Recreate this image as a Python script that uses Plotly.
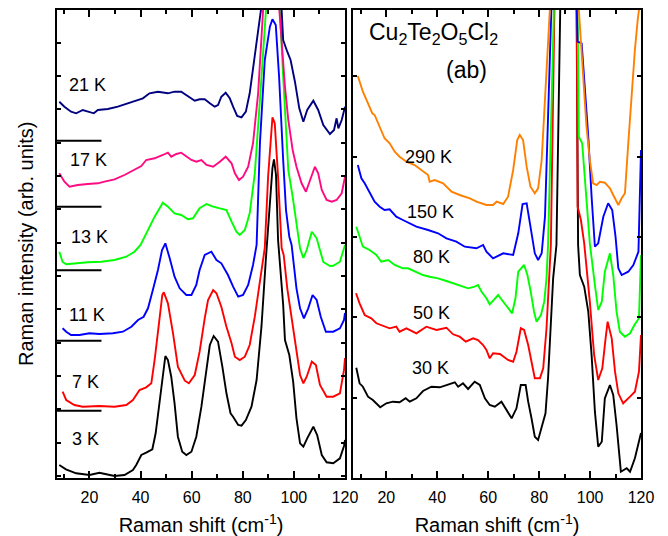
import plotly.graph_objects as go

# ---------------- data (arbitrary intensity units, offset spectra) ----------------
# Left panel: low temperatures
x_3K = [8.2,10.8,14.8,20,23.9,27.8,29.8,33.7,37,38.3,40.3,42.2,44.6,45.9,47.5,48.8,49.7,50.7,52,53.3,54.6,56.3,57.9,59.9,61.8,63.8,65.8,67.1,68.6,70.3,72,73.6,75.2,76.2,78.2,79.5,81.2,83.4,85.4,87.3,89.0,89.3,90.8,91.6,92.2,93.0,93.8,95.8,96.5,98.2,99.7,101,102.4,103.7,105.2,107.6,109.1,110.9,112.8,115.4,118,119.6,120]
y_3K = [1.3,0.87,0.47,0.3,0.53,0.3,0.2,0.3,0.8,1.3,2.3,2.53,2.87,4.47,7.8,10.8,12.2,11.8,10.13,7.47,4.13,2.63,2.3,2.63,4.13,7.13,10.8,13.3,14.2,13.63,11.13,8.47,6.47,6.13,5.3,5.23,5.8,7.13,9.8,15.13,21.8,23.0,27.8,31.0,31.87,30.3,23.8,17.3,13.8,12.3,9.63,5.97,3.47,3.13,3.97,5.13,4.3,2.3,1.57,1.47,1.97,3.2,3.8]

x_7K = [9.5,10.9,14.1,17.4,23.9,29.8,34.4,37,39.6,42.2,44.2,45.5,47.2,48.5,49.1,50.7,52.7,54.6,57.3,58.9,61.2,63.1,65.1,66.4,68.4,69.7,71.6,73.6,75.6,76.9,78.8,80.8,82.7,84.7,86.4,88.0,88.6,89.9,91.6,92.5,93.8,95.2,96.0,97.4,99.1,101,102.4,103.7,105,107,108.6,110.2,112.8,115.4,118,119.6,120]
y_7K = [8.63,7.8,7.3,7.13,7.2,7.13,7.3,7.8,8.8,9.07,9.47,11.8,15.47,18.3,18.57,17.47,14.47,11.13,9.73,9.47,10.3,12.63,15.97,17.8,18.8,18.47,17.13,15.13,13.47,12.13,11.8,12.13,13.3,16.13,19.13,21.8,23.0,30.13,36.07,35.47,30.13,23.0,22.3,18.97,15.97,12.3,10.3,9.47,10.13,11.63,11.3,9.3,8.13,8.13,8.47,10.8,12.0]

x_11K = [9.5,10.9,12.8,16.1,20,23.9,29.2,33.1,36.4,39,41.2,42.9,44.8,46.8,48.4,49.7,51.4,53.3,55.3,57.9,59.9,61.8,63.1,65.1,67.7,69.7,71.6,74.2,76.2,78.2,80.1,82.1,84,85.4,86.7,88.6,90.6,91.6,92.9,94.2,95.8,96.9,98.2,99.1,101,102.4,103.9,105.6,107.3,108.9,110.5,112.5,115.4,118,119.6,120]
y_11K = [14.97,14.63,14.3,14.3,14.47,14.4,14.47,14.63,15.13,15.8,16.13,16.97,18.8,20.8,22.8,23.47,21.97,20.13,18.97,18.3,18.3,19.3,20.8,22.3,22.63,21.8,21.47,20.3,19.13,18.13,18.3,19.3,21.3,23.3,33.47,41.8,45.13,45.87,45.3,40.13,31.8,26.8,24.13,23.3,18.97,16.97,15.97,16.97,18.3,17.8,16.13,14.63,14.63,14.97,15.8,16.5]

x_13K = [8.2,9.5,10.9,14.1,19.3,24.6,29.8,34.4,37.6,40,42.2,45.5,47.8,48.7,50.7,53.3,55.9,58.5,60.5,63.1,65.8,68.4,71,73.6,75.6,77.5,78.8,80.8,82.7,84.7,86.7,88.6,90,91.5,93,94.5,95.8,96.9,97.8,99.5,101,102.4,103.7,105,107,108.9,111.5,114.1,115.4,118,120]
y_13K = [22.63,21.6,21.37,21.47,21.57,21.63,21.8,22.13,22.63,23.3,24.47,26.13,27.13,27.53,27.13,26.47,26.3,25.87,25.97,26.97,27.4,27.13,26.97,26.8,25.63,24.63,24.3,24.8,26.47,30.47,37.8,46.13,52,56,52,46.8,40.13,34.8,30.8,28.13,25.47,22.97,22.0,22.8,24.63,23.97,21.6,21.2,21.23,21.63,23.3]

x_17K = [8.2,10.2,12.2,15.4,19.3,23.3,25.9,29.8,33.7,37.6,40.3,42.2,45.5,48.7,50.7,52,54,55.9,57.9,59.9,61.8,63.8,65.8,68.4,71,73.3,75.6,76.9,78.5,80.1,82.1,84,86,87.3,88.2,91.5,94.3,95.2,96.5,97.8,99.5,101,103,104.7,106.3,108.2,109.5,110.9,112.8,114.8,116.7,118.7,120]
y_17K = [30.47,29.63,29.13,29.3,29.4,29.47,29.63,29.87,30.3,30.8,31.2,31.8,31.97,32.3,32.53,32.13,32.4,32.53,32.13,31.8,31.63,31.8,31.3,31.13,31.63,32.13,31.47,30.47,29.8,30.13,31.13,33.47,38.47,43.47,46.8,62,46.8,43.47,39.13,35.8,32.8,31.13,29.47,28.63,29.8,31.13,30.47,28.8,27.8,27.63,27.8,28.47,30.13]

x_21K = [8.2,10.2,12.8,14.8,17.4,19.3,21.7,23.3,27.2,31.1,35,38.3,40.9,43.5,46.8,50.7,53.3,55.9,58.5,61.2,63.1,65.1,67.1,69,70.3,71.6,73.3,74.9,76.2,77.8,79.5,81.2,82.7,84,85.4,86.7,87.1,91.3,95.0,95.8,97.4,98.7,100.4,102.1,103.7,105.2,107.6,109.5,111.5,114.1,115.7,116.7,117.4,118.7,120]
y_21K = [37.63,37.13,36.63,36.47,36.8,36.63,36.47,36.8,36.9,37.13,37.47,37.8,37.97,38.47,38.63,38.47,38.63,38.63,38.2,37.73,37.87,37.87,37.47,37.13,37.3,38.13,38.53,37.97,37.13,36.2,36.07,36.63,38.47,40.8,43.47,46.13,46.8,66,46.8,43.8,42.63,41.8,39.63,36.97,35.63,36.8,37.73,36.8,35.3,34.4,34.8,35.97,34.97,35.8,37.13]

# zero-level markers of the offset spectra (left panel)
baseline_levels = [6.73, 13.73, 20.77, 27.13, 33.73]
baseline_x = [7.3, 24.7]

# Right panel: higher temperatures
x_30K = [8.2,9.5,10.8,12.8,14.7,17.6,20,22.6,25.2,27.6,29.2,31.8,34.4,37.7,41,43.6,46.9,48.2,50.1,52.1,54.7,56.7,58.7,60.6,62.6,65.2,67.2,69.2,71.1,72.8,74.7,75.7,77,78.3,79.6,81,82.5,83.5,84.6,85.5,86.8,88.4,91,94.7,95.3,96,97.7,99.3,100.6,101.9,103.2,104.6,105.8,107.8,109.1,110.4,112.1,114.4,115.7,117.6,119.2,120]
y_30K = [11.03,9.47,9.13,8.13,7.8,7.07,7.47,7.63,7.57,7.97,7.63,7.97,8.7,9.13,9.07,9.3,9.57,9.13,9.47,8.9,9.63,9.3,7.97,7.3,7.13,7.63,6.8,5.97,6.97,9.3,9.3,7.63,5.97,4.13,3.8,4.97,6.47,9.97,14.97,19.97,23.3,46.8,90,46.8,23.3,20.3,19.13,16.63,12.3,6.63,3.13,3.63,7.97,9.3,8.3,5.3,0.63,0.97,0.63,1.97,3.63,4.5]

x_50K = [8.1,9.5,11.5,14.1,16.1,18.7,21.3,23.9,25.2,27.9,31.8,35.7,39.7,43.6,46.2,48.8,51.2,54.1,56,58,59.3,60.6,61.9,64.6,67.8,69.8,71.1,72.8,74.1,75.7,77,78.3,80.3,81.6,82.9,83.8,84.6,86,90,94.8,95.1,96.4,97.7,99.9,101.6,103.2,104.8,106.1,106.9,108.5,109.8,111.1,113,115.7,117.6,119.2,120]
y_50K = [18.47,17.47,16.3,15.97,15.47,15.23,14.97,15.13,14.63,14.97,14.47,15.13,14.8,15.03,14.37,14.13,13.63,13.97,13.8,13.3,12.8,11.97,12.47,12.4,11.8,11.63,12.63,14.97,14.8,13.3,11.63,9.97,9.97,10.97,14.97,19.97,23.3,46.8,90,46.8,27.13,25.8,23.47,17.63,12.3,9.8,10.97,13.97,15.63,13.97,10.63,8.47,7.47,8.13,8.63,10.63,14.3]

x_80K = [8.2,10.2,10.8,13.4,16.1,18,20.7,23.3,25.2,26.5,28.5,31.8,34.4,37,40.3,43.6,46.2,49.5,52.1,54.7,56,57.4,59.3,60.6,62.6,63.9,65.9,67.8,69.4,70.7,71.8,74.1,75.4,76.7,78,79,80.7,82,82.9,83.5,86.2,90,95.1,95.6,96.9,98.2,99.9,101.9,103.2,104.6,105.8,107.8,109.1,110.4,111.7,113.7,115.7,117.4,119.2,120]
y_80K = [25.13,23.47,23.13,22.8,22.3,21.63,21.8,21.3,21.13,20.97,20.97,20.63,20.3,20.13,19.97,19.7,19.47,19.13,18.97,19.13,19.3,18.63,17.97,17.37,17.97,18.3,17.63,16.97,16.47,17.97,20.63,21.3,20.3,18.63,16.63,15.63,16.3,17.63,19.97,23.3,46.8,90,46.8,34.13,33.47,29.13,23.47,19.3,16.8,17.63,20.63,22.47,20.3,16.63,14.63,14.13,14.47,15.3,15.97,22.3]

x_150K = [8.8,10.2,11.5,12.8,15.4,17.4,19.3,21.3,23.9,26.5,31.8,36.4,40.3,43.6,47.5,50.8,55.4,58,59.3,61.9,65.9,69.8,71.8,73.5,75.1,76.6,78.3,79.6,81,82.3,83.5,84.9,85.3,90,94.8,95.1,96.7,97.7,99.3,100.6,101.9,103.2,105.2,107.1,108.7,110,111.1,112.4,115,117,119,120]
y_150K = [31.3,29.97,29.47,28.8,27.63,27.13,26.8,26.87,26.13,25.8,25.13,24.8,24.47,23.97,23.63,23.13,22.97,23.3,22.63,21.97,22.47,22.3,24.47,27.4,27.47,25.13,22.47,21.8,22.47,26.13,34.47,44.47,46.8,90,46.8,43.63,43.47,40.13,34.13,28.13,23.13,23.47,26.13,27.47,26.8,24.13,20.97,20.3,20.63,21.3,22.63,32.8]

x_290K = [8.8,10.8,12.8,14.5,15.4,17.4,19.3,21.3,23.3,25.2,27.9,31.1,33.8,36.4,37,39,42.3,45.6,48.8,52.8,55.4,59.3,61.9,63.3,65.9,67.8,69.8,71.4,72.4,73.7,75.1,76.6,78.3,79.6,81,82.3,83.5,84.2,90,95.6,97.3,98.6,99.9,101.2,102.6,103.9,105.8,107.8,109.1,111.1,112.4,113.7,115,116.3,117.6,118.7,119.2,120]
y_290K = [40.2,38.63,37.47,36.47,36.3,35.13,33.97,33.47,32.63,32.13,31.63,31.3,30.8,30.3,29.63,29.8,29.47,28.63,28.3,27.97,27.63,27.3,27.3,27.63,27.4,28.13,30.8,33.8,34.3,33.8,31.13,29.13,28.47,28.97,31.8,37.8,44.47,46.8,90,46.8,40.13,35.13,31.8,29.47,29.3,29.63,29.53,28.97,28.3,27.3,27.97,28.47,33.47,38.47,42.8,45.8,46.8,52]

left_labels = ["3 K", "7 K", "11 K", "13 K", "17 K", "21 K"]
right_labels = ["30 K", "50 K", "80 K", "150 K", "290 K"]
x_ticks = [20, 40, 60, 80, 100, 120]

# ---------------- figure ----------------
FONT = "Liberation Sans, Arial, sans-serif"
LW = 1.9
fig = go.Figure()

left_series = [(x_3K, y_3K, "#000000"), (x_7K, y_7K, "#ff0000"), (x_11K, y_11K, "#0000ff"),
               (x_13K, y_13K, "#00ff00"), (x_17K, y_17K, "#ff0a80"), (x_21K, y_21K, "#000080")]
for (xs, ys, col), name in zip(left_series, left_labels):
    fig.add_trace(go.Scatter(x=xs, y=ys, mode="lines", name=name,
                             line=dict(color=col, width=LW), xaxis="x", yaxis="y"))

for lev in baseline_levels:
    fig.add_trace(go.Scatter(x=baseline_x, y=[lev, lev], mode="lines",
                             line=dict(color="black", width=2), xaxis="x", yaxis="y",
                             hoverinfo="skip"))

right_series = [(x_30K, y_30K, "#000000"), (x_50K, y_50K, "#ff0000"), (x_80K, y_80K, "#00ff00"),
                (x_150K, y_150K, "#0000ff"), (x_290K, y_290K, "#ff8000")]
for (xs, ys, col), name in zip(right_series, right_labels):
    fig.add_trace(go.Scatter(x=xs, y=ys, mode="lines", name=name,
                             line=dict(color=col, width=LW), xaxis="x2", yaxis="y2"))

# label positions (data coordinates)
left_label_pos = [(12.5, 3.9), (12.2, 9.6), (11.25, 16.33), (11.8, 24.13), (11.5, 31.8), (11.25, 39.3)]
right_label_pos = [(29.4, 11.03), (29.8, 16.53), (29.8, 22.07), (27.5, 26.63), (26.4, 32.13)]

annotations = []
for txt, (ax_, ay_) in zip(left_labels, left_label_pos):
    annotations.append(dict(x=ax_, y=ay_, xref="x", yref="y", text=txt, showarrow=False,
                            xanchor="left", yanchor="middle", font=dict(size=18, color="black", family=FONT)))
for txt, (ax_, ay_) in zip(right_labels, right_label_pos):
    annotations.append(dict(x=ax_, y=ay_, xref="x2", yref="y2", text=txt, showarrow=False,
                            xanchor="left", yanchor="middle", font=dict(size=18, color="black", family=FONT)))

annotations.append(dict(x=12.5, y=44.5, xref="x2", yref="y2",
                        text="Cu<sub>2</sub>Te<sub>2</sub>O<sub>5</sub>Cl<sub>2</sub>",
                        showarrow=False, xanchor="left", yanchor="middle",
                        font=dict(size=23, color="black", family=FONT)))
annotations.append(dict(x=42.5, y=40.8, xref="x2", yref="y2", text="(ab)",
                        showarrow=False, xanchor="left", yanchor="middle",
                        font=dict(size=23, color="black", family=FONT)))
annotations.append(dict(x=-0.053, y=0.5, xref="paper", yref="paper",
                        text="Raman intensity (arb. units)", textangle=-90, showarrow=False,
                        xanchor="center", yanchor="middle",
                        font=dict(size=20, color="black", family=FONT)))

xaxis_common = dict(
    showline=True, linecolor="black", linewidth=1.5, mirror="ticks",
    ticks="inside", ticklen=7, tickwidth=1.5, tickcolor="black",
    tickvals=x_ticks, showgrid=False, zeroline=False, ticklabelstandoff=4,
    minor=dict(dtick=10, tick0=0, ticks="inside", ticklen=4, tickwidth=1.5, tickcolor="black", showgrid=False),
    tickfont=dict(size=16, color="black", family=FONT),
    title=dict(text="Raman shift (cm<sup>-1</sup>)", font=dict(size=20, color="black", family=FONT), standoff=13),
)
yaxis_common = dict(
    showline=True, linecolor="black", linewidth=1.5, mirror="ticks",
    ticks="inside", ticklen=4, tickwidth=1.5, tickcolor="black",
    showticklabels=False, showgrid=False, zeroline=False, range=[0, 46.8],
)

fig.update_layout(
    width=668, height=536,
    margin=dict(l=57, r=27, t=10, b=58, autoexpand=False),
    paper_bgcolor="white", plot_bgcolor="white",
    showlegend=False,
    font=dict(family=FONT, color="black"),
    xaxis=dict(domain=[0, 0.4932], range=[7.3, 120], anchor="y", **xaxis_common),
    xaxis2=dict(domain=[0.5068, 1], range=[6.9, 120], anchor="y2", **xaxis_common),
    yaxis=dict(anchor="x", tick0=3.53, dtick=3.333, **yaxis_common),
    yaxis2=dict(anchor="x2", tick0=8.03, dtick=8.04, **yaxis_common),
    annotations=annotations,
)

fig.write_html("out.html")
